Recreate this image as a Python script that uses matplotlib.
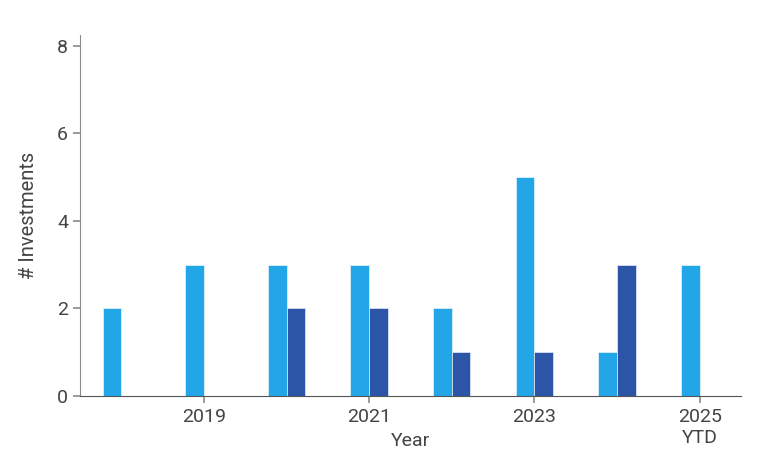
import matplotlib
matplotlib.use("Agg")
import matplotlib.pyplot as plt
import numpy as np

years = ["2018", "2019", "2020", "2021", "2022", "2023", "2024", "2025\nYTD"]
series_a = [2, 3, 3, 3, 2, 5, 1, 3]
series_b = [0, 0, 2, 2, 1, 1, 3, 0]
shown_ticks = [1, 3, 5, 7]

plt.rcParams['font.family'] = ['Roboto', 'DejaVu Sans']

fig = plt.figure(figsize=(7.67, 4.57), dpi=100)
ax = fig.add_axes([0.1043, 0.1335, 0.966 - 0.1043, 0.9234 - 0.1335])

x = np.arange(len(years))
w = 0.226
ax.bar(x - w / 2, series_a, w, color='#22a6e8', edgecolor='#d8eefa', linewidth=0.6)
ax.bar(x + w / 2, series_b, w, color='#2c55a8', edgecolor='#d8e0f0', linewidth=0.6)

ax.set_xlim(-0.5, 7.5)
ax.set_ylim(0, 8.25)
ax.set_yticks([0, 2, 4, 6, 8])
ax.set_xticks(shown_ticks)
ax.set_xticklabels([years[i] for i in shown_ticks], linespacing=1.2)

for s in ['top', 'right']:
    ax.spines[s].set_visible(False)
ax.spines['left'].set_color('#8a8a8a')
ax.spines['bottom'].set_color('#555555')
ax.tick_params(axis='both', colors='#8a8a8a', labelcolor='#444444', labelsize=14, length=5, width=1.2)

ax.set_xlabel('Year', fontsize=14, color='#444444')
ax.xaxis.set_label_coords(0.5, -0.1)
ax.set_ylabel('# Investments', fontsize=14.5, color='#444444', labelpad=14)

fig.savefig('out.png', dpi=100)
